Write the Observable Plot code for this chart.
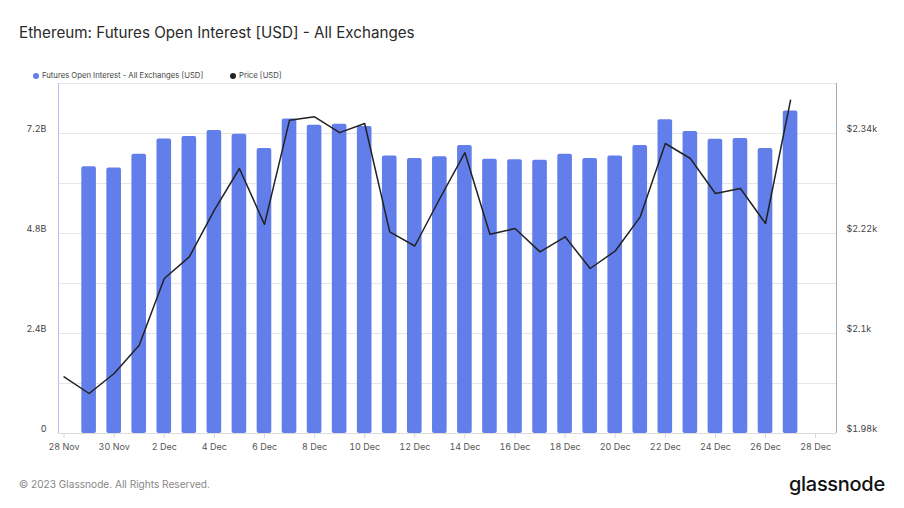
<!DOCTYPE html>
<html>
<head>
<meta charset="utf-8">
<script src="https://cdn.jsdelivr.net/npm/d3@7"></script>
<script src="https://cdn.jsdelivr.net/npm/@observablehq/plot@0.6"></script>
<style>
  html, body { margin: 0; padding: 0; background: #fff; }
  #wrap { position: relative; width: 904px; height: 508px; font-family: Inter, "Noto Sans", sans-serif; overflow: hidden; }
  #title { position: absolute; left: 19px; top: 23px; font-size: 15.2px; color: #2a2a2a; font-weight: 400; white-space: nowrap; }
  #legend { position: absolute; left: 33px; top: 71px; font-size: 7.7px; color: #444; white-space: nowrap; }
  #legend span.item { position: absolute; top: 0; display: flex; align-items: center; }
  #legend span.dot { display: inline-block; width: 6px; height: 6px; border-radius: 50%; margin-right: 3px; }
  #chart { position: absolute; left: 0; top: 60px; }
  #copy { position: absolute; left: 19px; top: 478px; font-size: 10.1px; color: #888; white-space: nowrap; }
  #logo { position: absolute; left: 789px; top: 472px; font-size: 20px; color: #111; font-weight: 500; letter-spacing: -0.3px; white-space: nowrap; }
</style>
</head>
<body>
<div id="wrap">
  <div id="title">Ethereum: Futures Open Interest [USD] - All Exchanges</div>
  <div id="legend"></div>
  <div id="chart"></div>
  <div id="copy">© 2023 Glassnode. All Rights Reserved.</div>
  <div id="logo">glassnode</div>
</div>
<script>
// ---- Data ----
const priceDates = ["2023-11-28","2023-11-29","2023-11-30","2023-12-01","2023-12-02","2023-12-03","2023-12-04","2023-12-05","2023-12-06","2023-12-07","2023-12-08","2023-12-09","2023-12-10","2023-12-11","2023-12-12","2023-12-13","2023-12-14","2023-12-15","2023-12-16","2023-12-17","2023-12-18","2023-12-19","2023-12-20","2023-12-21","2023-12-22","2023-12-23","2023-12-24","2023-12-25","2023-12-26","2023-12-27"];
const priceUSD = [2048, 2028, 2052, 2086, 2166, 2192, 2248, 2298, 2231, 2356, 2360, 2341, 2352, 2222, 2205, 2262, 2317, 2219, 2226, 2198, 2216, 2178, 2199, 2240, 2328, 2310, 2268, 2274, 2232, 2380];

const oiDates = priceDates.slice(1);
const openInterestB = [6.40, 6.37, 6.70, 7.07, 7.13, 7.27, 7.18, 6.84, 7.55, 7.40, 7.42, 7.37, 6.66, 6.60, 6.64, 6.91, 6.58, 6.57, 6.56, 6.70, 6.60, 6.66, 6.91, 7.53, 7.25, 7.06, 7.08, 6.84, 7.74];

const leftTicks = [0, 2.4e9, 4.8e9, 7.2e9];
const leftTickLabels = ["0", "2.4B", "4.8B", "7.2B"];
const rightTicks = [1980, 2100, 2220, 2340];
const rightTickLabels = ["$1.98k", "$2.1k", "$2.22k", "$2.34k"];
const xTickDates = ["2023-11-28","2023-11-30","2023-12-02","2023-12-04","2023-12-06","2023-12-08","2023-12-10","2023-12-12","2023-12-14","2023-12-16","2023-12-18","2023-12-20","2023-12-22","2023-12-24","2023-12-26","2023-12-28"];
const legendLabels = ["Futures Open Interest - All Exchanges [USD]", "Price [USD]"];
const colors = ["#627eea", "#222222"];

// ---- Scales mapping ----
const yMax = 8.4e9;
const pMin = 1980, pMax = 2400;
const priceToY = p => (p - pMin) / (pMax - pMin) * yMax;

const parse = d3.utcParse("%Y-%m-%d");
const oiData = oiDates.map((d, i) => ({date: parse(d), oi: openInterestB[i] * 1e9}));
const priceData = priceDates.map((d, i) => ({date: parse(d), price: priceUSD[i]}));

// legend
const legend = document.getElementById("legend");
[0, 197].forEach((left, i) => {
  const s = document.createElement("span");
  s.className = "item";
  s.style.left = left + "px";
  s.innerHTML = `<span class="dot" style="background:${colors[i]}"></span>${legendLabels[i]}`;
  legend.appendChild(s);
});

const fmtDay = d3.utcFormat("%-d %b");
const xDomain = [new Date(Date.UTC(2023, 10, 27, 18, 40)), new Date(Date.UTC(2023, 11, 28, 20, 0))];

const chart = Plot.plot({
  width: 904,
  height: 400,
  marginTop: 23,
  marginBottom: 27,
  marginLeft: 58,
  marginRight: 68,
  style: {fontFamily: "Inter, 'Noto Sans', sans-serif", fontSize: "9px", color: "#555", background: "transparent"},
  x: {type: "utc", domain: xDomain, label: null},
  y: {domain: [0, yMax], label: null},
  marks: [
    Plot.gridY(d3.range(0, yMax + 1, 1.2e9), {stroke: "#e6e6e6", strokeOpacity: 1}),
    Plot.rectY(oiData, {
      x1: d => d3.utcHour.offset(d.date, -7),
      x2: d => d3.utcHour.offset(d.date, 7),
      y: "oi",
      fill: colors[0],
      rx: 2
    }),
    Plot.ruleY([0], {stroke: "#dcdcdc"}),
    Plot.ruleY([yMax], {stroke: "#e6e6e6"}),
    Plot.ruleX([xDomain[0]], {stroke: "#b4c0f2"}),
    Plot.ruleX([xDomain[1]], {stroke: "#a8a8a8"}),
    Plot.line(priceData, {x: "date", y: d => priceToY(d.price), stroke: colors[1], strokeWidth: 1.5}),
    Plot.axisX(xTickDates.map(parse), {label: null, tickFormat: fmtDay, tickSize: 5, stroke: "#d6d6d6", color: "#555", tickPadding: 5, fontSize: 9}),
    Plot.axisY(leftTicks, {label: null, anchor: "left", tickSize: 0, tickPadding: 12, dy: -4, tickFormat: (d, i) => leftTickLabels[i], color: "#444", fontSize: 9}),
    Plot.axisY(rightTicks.map(priceToY), {label: null, anchor: "right", tickSize: 0, tickPadding: 10, dy: -4, tickFormat: (d, i) => rightTickLabels[i], color: "#444", fontSize: 9})
  ]
});
document.getElementById("chart").appendChild(chart);
</script>
</body>
</html>
